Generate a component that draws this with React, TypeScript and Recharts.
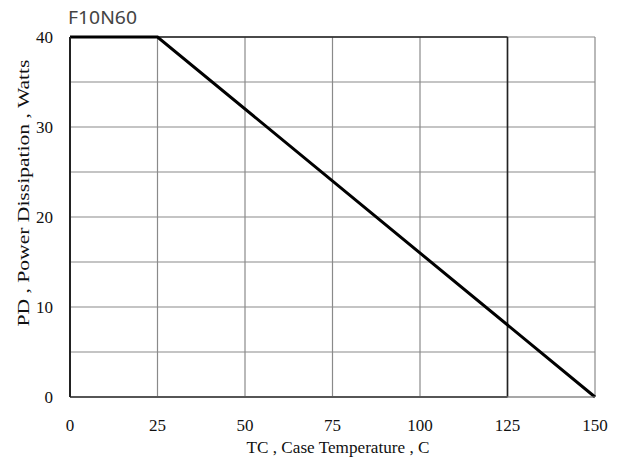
import { LineChart, Line, XAxis, YAxis, CartesianGrid, ReferenceLine } from "recharts";

const temps = [0, 25, 150];
const power = [40, 40, 0];
const xTicks = [0, 25, 50, 75, 100, 125, 150];
const yTicks = [0, 10, 20, 30, 40];
const yGrid = [0, 5, 10, 15, 20, 25, 30, 35, 40];

const data = temps.map((t, i) => ({ tc: t, pd: power[i] }));

const serif = "'Liberation Serif', 'Times New Roman', serif";
const tickStyle = { fontFamily: serif, fontSize: 17, fill: "#111" };

function YLabel() {
  return (
    <text
      x={23}
      y={193}
      transform="rotate(-90 23 193)"
      textAnchor="middle"
      dominantBaseline="central"
      fontFamily={serif}
      fontSize={17}
      fill="#111"
      textLength={267}
      lengthAdjust="spacingAndGlyphs"
    >
      PD , Power Dissipation ,  Watts
    </text>
  );
}

function XLabel() {
  return (
    <text
      x={338}
      y={453}
      textAnchor="middle"
      fontFamily={serif}
      fontSize={17}
      fill="#111"
      textLength={183}
      lengthAdjust="spacingAndGlyphs"
    >
      TC , Case Temperature , C
    </text>
  );
}

export default function App() {
  return (
    <div style={{ position: "absolute", left: 0, top: 0, width: 621, height: 459, background: "#fff" }}>
      <LineChart width={621} height={459} data={data} margin={{ top: 37, right: 26, left: 0, bottom: 0 }}>
        <CartesianGrid
          stroke="#8a8a8a"
          strokeWidth={1.2}
          horizontalValues={yGrid}
          verticalValues={xTicks}
        />
        <XAxis
          dataKey="tc"
          type="number"
          domain={[0, 150]}
          ticks={xTicks}
          height={62}
          tickLine={false}
          axisLine={{ stroke: "#8a8a8a" }}
          tickSize={0}
          tickMargin={22}
          tick={tickStyle}
          label={<XLabel />}
        />
        <YAxis
          type="number"
          domain={[0, 40]}
          ticks={yTicks}
          width={70}
          tickLine={false}
          axisLine={{ stroke: "#222", strokeWidth: 2 }}
          tickSize={0}
          tickMargin={17}
          tick={tickStyle}
          label={<YLabel />}
        />
        <ReferenceLine segment={[{ x: 0, y: 40 }, { x: 125, y: 40 }]} stroke="#222" strokeWidth={1.6} />
        <ReferenceLine segment={[{ x: 0, y: 0 }, { x: 125, y: 0 }]} stroke="#222" strokeWidth={2} />
        <ReferenceLine x={125} stroke="#222" strokeWidth={1.6} />
        <Line
          type="linear"
          dataKey="pd"
          stroke="#000"
          strokeWidth={3}
          dot={false}
          isAnimationActive={false}
        />
      </LineChart>
      <svg width={200} height={40} style={{ position: "absolute", left: 0, top: 0 }}>
        <text
          x={68}
          y={24}
          fontFamily="'Noto Sans', sans-serif"
          fontSize={18}
          fill="#444"
          textLength={69}
          lengthAdjust="spacingAndGlyphs"
        >
          F10N60
        </text>
      </svg>
    </div>
  );
}
